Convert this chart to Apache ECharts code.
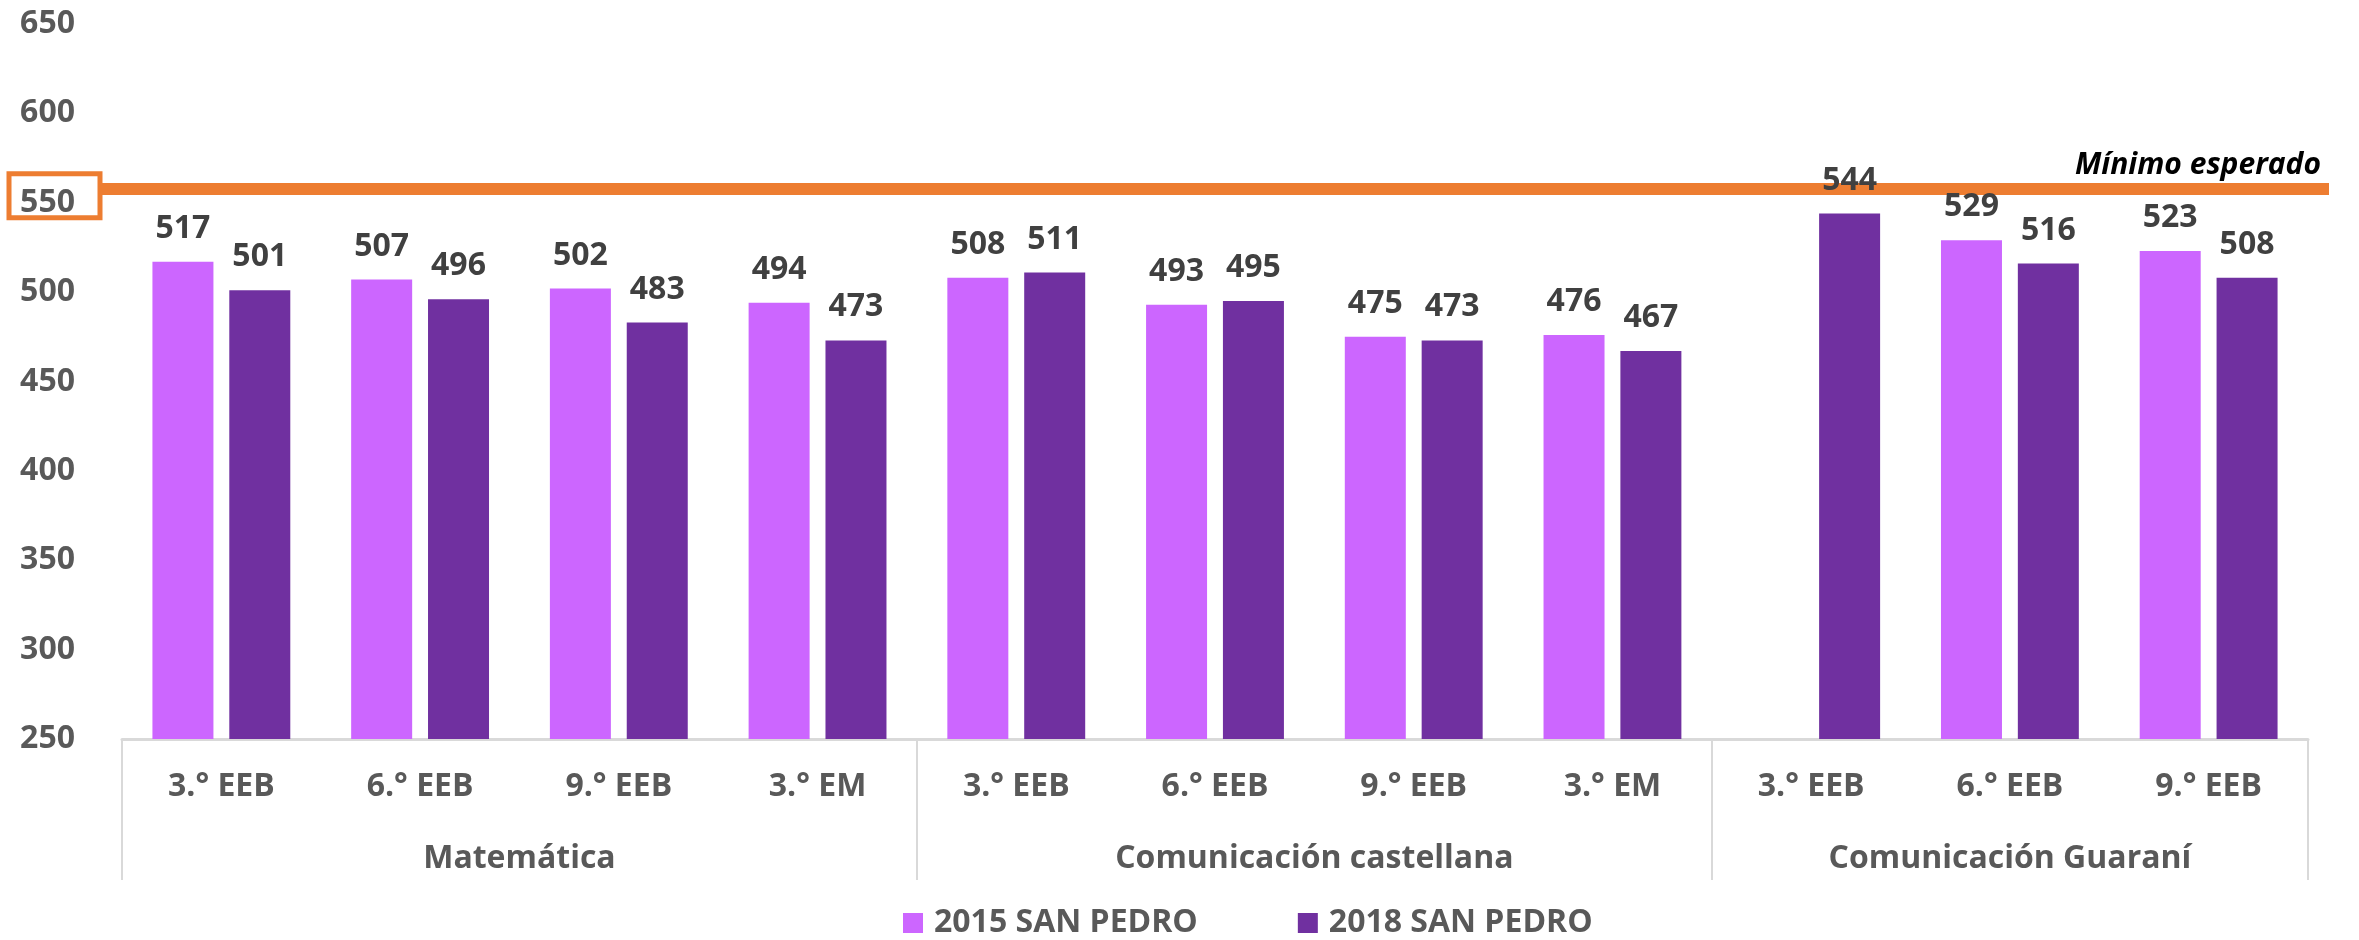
<!DOCTYPE html>
<html>
<head>
<meta charset="utf-8">
<script src="https://cdn.jsdelivr.net/npm/echarts@6/dist/echarts.min.js"></script>
<style>
    html, body { margin: 0; padding: 0; background: #fff; }
    #chart { width: 2359px; height: 940px; }
</style>
</head>
<body>
<div id="chart"></div>
<script>
const categories = [
    '3.° EEB', '6.° EEB', '9.° EEB', '3.° EM',
    '3.° EEB', '6.° EEB', '9.° EEB', '3.° EM',
    '3.° EEB', '6.° EEB', '9.° EEB'
];
const groupNames = ['Matemática', 'Comunicación castellana', 'Comunicación Guaraní'];
const groupSizes = [4, 4, 3];
const seriesNames = ['2015 SAN PEDRO', '2018 SAN PEDRO'];
const values2015 = [517, 507, 502, 494, 508, 493, 475, 476, null, 529, 523];
const values2018 = [501, 496, 483, 473, 511, 495, 473, 467, 544, 516, 508];
const yTicks = [250, 300, 350, 400, 450, 500, 550, 600, 650];
const minimoEsperado = 558;
const boxedTick = 550;

// group edges and centres on a 0..n scale
const groupEdges = [0];
groupSizes.forEach(n => groupEdges.push(groupEdges[groupEdges.length - 1] + n));
const groupCenters = groupSizes.map((n, i) => groupEdges[i] + n / 2);

const FONT = 'Open Sans';
const textGrey = '#595959';

const chart = echarts.init(document.getElementById('chart'));

const barLabel = {
    show: true,
    position: 'top',
    distance: 17,
    color: '#404040',
    fontFamily: FONT,
    fontWeight: 'bold',
    fontSize: 32,
    lineHeight: 32
};

chart.setOption({
    animation: false,
    grid: {
        left: 122,
        right: 51,
        top: 24,
        bottom: 201,
        containLabel: false
    },
    legend: {
        left: 898,
        top: 902,
        itemWidth: 20,
        itemHeight: 20,
        itemGap: 100,
        selectedMode: false,
        icon: 'rect',
        textStyle: {
            color: textGrey,
            fontFamily: FONT,
            fontWeight: 'bold',
            fontSize: 32,
            padding: [0, 0, 0, 6]
        },
        data: seriesNames
    },
    xAxis: [
        {
            type: 'category',
            position: 'bottom',
            data: categories,
            axisLine: { show: true, lineStyle: { color: '#d9d9d9', width: 3 } },
            axisTick: { show: false },
            axisLabel: {
                interval: 0,
                margin: 28,
                color: textGrey,
                fontFamily: FONT,
                fontWeight: 'bold',
                fontSize: 32,
                lineHeight: 40
            },
            splitLine: { show: false }
        },
        {
            // second row: subject names and separators
            type: 'value',
            position: 'bottom',
            min: 0,
            max: categories.length,
            axisLine: { show: false },
            axisTick: {
                show: true,
                customValues: groupEdges,
                length: 141,
                lineStyle: { color: '#d9d9d9', width: 2 }
            },
            axisLabel: {
                customValues: groupCenters,
                margin: 100,
                color: textGrey,
                fontFamily: FONT,
                fontWeight: 'bold',
                fontSize: 32,
                lineHeight: 40,
                formatter: function (v) {
                    const i = groupCenters.indexOf(v);
                    return i >= 0 ? groupNames[i] : '';
                }
            },
            splitLine: { show: false }
        }
    ],
    yAxis: {
        type: 'value',
        min: yTicks[0],
        max: yTicks[yTicks.length - 1],
        interval: yTicks[1] - yTicks[0],
        axisLine: { show: false },
        axisTick: { show: false },
        splitLine: { show: false },
        axisLabel: {
            margin: 47,
            color: textGrey,
            fontFamily: FONT,
            fontWeight: 'bold',
            fontSize: 32
        }
    },
    series: [
        {
            name: seriesNames[0],
            type: 'bar',
            z: 3,
            barWidth: 61,
            barGap: '26%',
            itemStyle: { color: '#cc66ff' },
            label: barLabel,
            data: values2015
        },
        {
            name: seriesNames[1],
            type: 'bar',
            z: 3,
            barWidth: 61,
            barGap: '26%',
            itemStyle: { color: '#7030a0' },
            label: barLabel,
            data: values2018,
            markLine: {
                silent: true,
                z: 1,
                symbol: 'none',
                lineStyle: { color: '#ed7d31', width: 12, type: 'solid' },
                label: {
                    show: true,
                    position: 'insideEndTop',
                    distance: 8,
                    formatter: 'Mínimo esperado',
                    color: '#000',
                    fontFamily: FONT,
                    fontStyle: 'italic',
                    fontWeight: 'bold',
                    fontSize: 30
                },
                data: [[
                    { yAxis: minimoEsperado, x: 102 },
                    { yAxis: minimoEsperado, x: 2329 }
                ]]
            }
        }
    ]
});

// orange frame round the 550 tick label
const yBox = chart.convertToPixel({ yAxisIndex: 0 }, boxedTick);
chart.setOption({
    graphic: [{
        type: 'rect',
        shape: { x: 9, y: yBox - 29, width: 91, height: 44 },
        style: { fill: 'none', stroke: '#ed7d31', lineWidth: 5 },
        silent: true
    }]
});
</script>
</body>
</html>
